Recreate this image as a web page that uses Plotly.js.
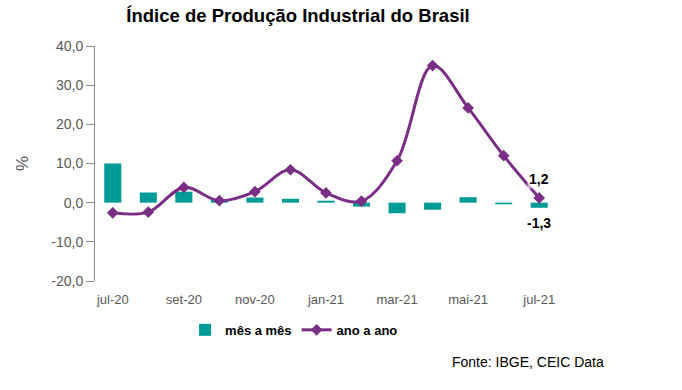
<!DOCTYPE html>
<html><head><meta charset="utf-8">
<script src="https://cdn.plot.ly/plotly-3.0.1.min.js"></script>
<style>html,body{margin:0;padding:0;background:#fff}#chart{width:682px;height:390px}</style>
</head><body><div id="chart"></div>
<script>
const categories = ['jul-20','ago-20','set-20','out-20','nov-20','dez-20','jan-21','fev-21','mar-21','abr-21','mai-21','jun-21','jul-21'];
const mesAMes = [10.0, 2.6, 2.8, 0.9, 1.3, 1.0, 0.5, -1.0, -2.7, -1.8, 1.4, -0.4, -1.3];
const anoAAno = [-2.6, -2.4, 3.9, 0.5, 2.8, 8.4, 2.5, 0.4, 10.7, 35.0, 24.2, 12.0, 1.2];
const yTickVals = [-20, -10, 0, 10, 20, 30, 40];
const yTickText = ['-20,0', '-10,0', '0,0', '10,0', '20,0', '30,0', '40,0'];
const fmt = v => v.toFixed(1).replace('.', ',');
const last = categories.length - 1;
const labelFont = {family:'Liberation Sans, Arial, sans-serif', size:14, color:'#000', weight:'bold'};

const traces = [
  {type:'bar', name:'mês a mês', x:categories, y:mesAMes, width:0.48,
   marker:{color:'#009A97'}, hoverinfo:'skip'},
  {type:'scatter', mode:'lines+markers', name:'ano a ano', x:categories, y:anoAAno,
   line:{color:'#7A2E85', width:3, shape:'spline', smoothing:1}, marker:{symbol:'diamond', size:9, color:'#7A2E85'}}
];

const layout = {
  width:682, height:390, margin:{l:95, r:125, t:46, b:109},
  paper_bgcolor:'#fff', plot_bgcolor:'#fff', showlegend:true, separators:',.',
  font:{family:'Liberation Sans, Arial, sans-serif', color:'#595959'},
  title:{text:'<b>Índice de Produção Industrial do Brasil</b>', x:0.437, xanchor:'center', y:0.96, yanchor:'middle',
         font:{size:18.5, color:'#000', family:'Liberation Sans, Arial, sans-serif'}},
  xaxis:{type:'category', categoryorder:'array', categoryarray:categories, range:[-0.5,12.5], dtick:2,
         showline:false, ticks:'', showgrid:false, zeroline:false, fixedrange:true, ticklabelstandoff:9,
         tickfont:{size:13, color:'#595959'}},
  xaxis2:{type:'linear', overlaying:'x', anchor:'free', position:1/3, range:[-0.5,12.5], tick0:-0.5, dtick:1,
          showline:true, linecolor:'#8c8c8c', linewidth:1, ticks:'outside', ticklen:5, tickcolor:'#8c8c8c',
          showticklabels:false, showgrid:false, zeroline:false},
  yaxis:{range:[-20,40], tickmode:'array', tickvals:yTickVals, ticktext:yTickText, showline:true, linecolor:'#8c8c8c', linewidth:1,
         ticks:'outside', ticklen:8, tickcolor:'#8c8c8c', showgrid:false, zeroline:false,
         tickfont:{size:14, color:'#595959'},
         title:{text:'%', font:{size:17, color:'#595959'}, standoff:18}},
  legend:{orientation:'h', x:0.195, xanchor:'left', y:-0.208, yanchor:'middle',
          font:{size:13, color:'#000', weight:'bold'}, itemwidth:30, tracegroupgap:0},
  annotations:[
    {text:fmt(anoAAno[last]), x:categories[last], y:anoAAno[last], xref:'x', yref:'y', yshift:19, showarrow:false,
     bgcolor:'rgba(255,255,255,0.6)', font:labelFont},
    {text:fmt(mesAMes[last]), x:categories[last], y:mesAMes[last], xref:'x', yref:'y', yshift:-15, showarrow:false,
     font:labelFont},
    {text:'Fonte: IBGE, CEIC Data', xref:'paper', yref:'paper', x:1.106, xanchor:'right', y:-0.344, yanchor:'middle',
     showarrow:false, font:{size:14, color:'#000'}}]
};
Plotly.newPlot('chart', traces, layout, {displayModeBar:false, staticPlot:true});
</script></body></html>
